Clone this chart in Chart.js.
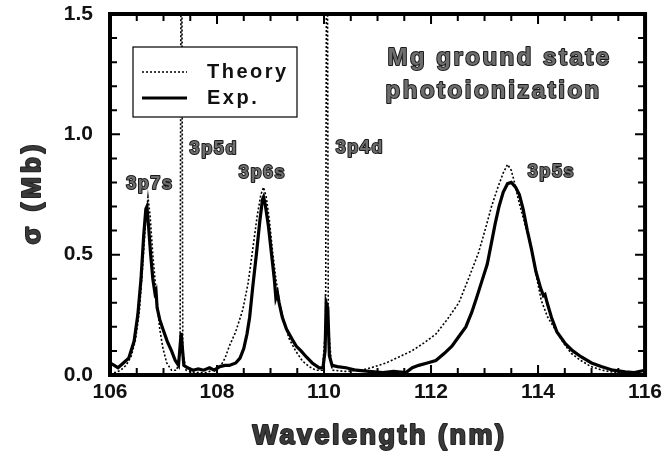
<!DOCTYPE html>
<html>
<head>
<meta charset="utf-8">
<script src="https://cdn.jsdelivr.net/npm/chart.js@4/dist/chart.umd.min.js"></script>
<style>
  body { margin: 0; background: #fff; }
  #wrap { width: 667px; height: 453px; position: relative; }
</style>
</head>
<body>
<div id="wrap"><canvas id="chart"></canvas></div>
<script>
// Mg ground state photoionization — theory vs experiment

const theoryWavelength = [
  106.00, 106.10, 106.20, 106.30, 106.40, 106.48, 106.55, 106.61, 106.66, 106.71,
  106.75, 106.80, 106.84, 106.89, 106.93, 106.99, 107.06, 107.15, 107.25, 107.31,
  107.335, 107.36, 107.42, 107.60, 107.80, 108.05, 108.15, 108.23, 108.35, 108.48,
  108.58, 108.66, 108.75, 108.82, 108.87, 108.92, 108.98, 109.04, 109.10, 109.17,
  109.25, 109.35, 109.47, 109.59, 109.72, 109.85, 109.97, 110.03, 110.055, 110.08,
  110.15, 110.40, 110.71, 110.95, 111.16, 111.40, 111.64, 111.88, 112.09, 112.30,
  112.52, 112.70, 112.89, 113.02, 113.13, 113.25, 113.35, 113.43, 113.50, 113.56,
  113.63, 113.75, 113.88, 113.97, 114.06, 114.18, 114.32, 114.47, 114.62, 114.80,
  114.99, 115.20, 115.44, 115.65, 115.87, 116.00
];
const theorySigma = [
  0.01, 0.01, 0.02, 0.04, 0.08, 0.15, 0.27, 0.45, 0.62, 0.74,
  0.66, 0.50, 0.40, 0.28, 0.19, 0.11, 0.05, 0.02, 0.02, 0.10,
  2.50, 0.10, 0.02, 0.01, 0.01, 0.03, 0.07, 0.12, 0.18, 0.27,
  0.38, 0.51, 0.66, 0.75, 0.78, 0.74, 0.64, 0.51, 0.40, 0.30,
  0.22, 0.15, 0.10, 0.06, 0.035, 0.02, 0.02, 0.20, 2.50, 0.20,
  0.02, 0.015, 0.02, 0.035, 0.05, 0.075, 0.10, 0.135, 0.17, 0.23,
  0.30, 0.40, 0.51, 0.61, 0.70, 0.78, 0.84, 0.875, 0.85, 0.80,
  0.73, 0.63, 0.52, 0.41, 0.31, 0.24, 0.19, 0.135, 0.09, 0.06,
  0.035, 0.02, 0.01, 0.01, 0.01, 0.02
];

const expWavelength = [
  106.00, 106.08, 106.15, 106.25, 106.35, 106.45, 106.52, 106.58, 106.63, 106.67,
  106.69, 106.72, 106.76, 106.80, 106.84, 106.86, 106.88, 106.93, 106.99, 107.07,
  107.15, 107.22, 107.28, 107.31, 107.33, 107.35, 107.38, 107.45, 107.55, 107.65,
  107.75, 107.86, 107.95, 108.05, 108.15, 108.23, 108.35, 108.43, 108.50, 108.56,
  108.61, 108.67, 108.74, 108.80, 108.85, 108.87, 108.90, 108.96, 109.02, 109.07,
  109.10, 109.13, 109.16, 109.22, 109.30, 109.40, 109.48, 109.57, 109.67, 109.78,
  109.91, 109.98, 110.02, 110.04, 110.07, 110.10, 110.15, 110.25, 110.41, 110.60,
  110.84, 111.10, 111.30, 111.53, 111.65, 111.77, 111.93, 112.09, 112.25, 112.39,
  112.52, 112.65, 112.76, 112.85, 112.95, 113.05, 113.13, 113.20, 113.27, 113.35,
  113.43, 113.50, 113.58, 113.65, 113.72, 113.80, 113.88, 113.96, 114.05, 114.10,
  114.13, 114.17, 114.25, 114.35, 114.51, 114.65, 114.81, 115.00, 115.18, 115.40,
  115.63, 115.80, 116.00
];
const expSigma = [
  0.05, 0.04, 0.03, 0.05, 0.07, 0.14, 0.25, 0.40, 0.58, 0.69,
  0.70, 0.62, 0.50, 0.40, 0.34, 0.35, 0.28, 0.23, 0.19, 0.14,
  0.10, 0.06, 0.04, 0.12, 0.175, 0.12, 0.04, 0.03, 0.02, 0.025,
  0.02, 0.03, 0.02, 0.035, 0.04, 0.04, 0.05, 0.07, 0.11, 0.17,
  0.24, 0.37, 0.51, 0.64, 0.73, 0.74, 0.71, 0.62, 0.50, 0.40,
  0.32, 0.34, 0.30, 0.24, 0.19, 0.15, 0.12, 0.10, 0.075, 0.05,
  0.03, 0.03, 0.10, 0.30, 0.28, 0.08, 0.04, 0.035, 0.03, 0.02,
  0.015, 0.01, 0.015, 0.01, 0.03, 0.04, 0.05, 0.06, 0.09, 0.12,
  0.16, 0.20, 0.26, 0.32, 0.39, 0.46, 0.55, 0.63, 0.70, 0.76,
  0.795, 0.80, 0.78, 0.75, 0.69, 0.60, 0.52, 0.43, 0.36, 0.33,
  0.335, 0.30, 0.24, 0.18, 0.13, 0.10, 0.075, 0.05, 0.035, 0.02,
  0.013, 0.01, 0.02
];

const xTickLabels = [106, 108, 110, 112, 114, 116];
const yTickLabels = [0.0, 0.5, 1.0, 1.5];

const peakNames = ['3p7s', '3p5d', '3p6s', '3p4d', '3p5s'];
const peakLabelAt = [[106.745, 0.794], [107.94, 0.939], [108.85, 0.839], [110.67, 0.943], [114.25, 0.843]];
const titleLines = ['Mg ground state', 'photoionization'];

const isLabel = (list, v) => list.some(l => Math.abs(l - v) < 1e-6);
const pts = (xs, ys) => xs.map((x, i) => ({ x, y: ys[i] }));

function outlined(ctx, text, x, y, font, spacing, fill, stroke) {
  ctx.save();
  ctx.font = font;
  ctx.letterSpacing = spacing;
  ctx.textAlign = 'center';
  ctx.textBaseline = 'middle';
  ctx.lineJoin = 'round';
  ctx.lineWidth = 2;
  ctx.strokeStyle = stroke;
  ctx.strokeText(text, x, y);
  ctx.fillStyle = fill;
  ctx.fillText(text, x, y);
  ctx.restore();
}

const decor = {
  id: 'decor',
  afterDraw(chart) {
    const { ctx, chartArea: a, scales: { x, y } } = chart;
    ctx.save();
    ctx.strokeStyle = '#000';
    ctx.lineWidth = 2;
    // inward ticks on all four sides
    x.ticks.forEach(t => {
      const px = x.getPixelForValue(t.value);
      const len = isLabel(xTickLabels, t.value) ? 10 : 7;
      ctx.beginPath();
      ctx.moveTo(px, a.bottom); ctx.lineTo(px, a.bottom - len);
      ctx.moveTo(px, a.top); ctx.lineTo(px, a.top + len);
      ctx.stroke();
    });
    y.ticks.forEach(t => {
      const py = y.getPixelForValue(t.value);
      const len = isLabel(yTickLabels, t.value) ? 10 : 7;
      ctx.beginPath();
      ctx.moveTo(a.left, py); ctx.lineTo(a.left + len, py);
      ctx.moveTo(a.right, py); ctx.lineTo(a.right - len, py);
      ctx.stroke();
    });
    ctx.lineWidth = 4;
    ctx.strokeRect(a.left, a.top, a.right - a.left, a.bottom - a.top);

    // legend box
    const lx = a.left + 23, ly = a.top + 33;
    ctx.lineWidth = 1.2;
    ctx.fillStyle = '#fff';
    ctx.fillRect(lx, ly, 164, 70);
    ctx.strokeRect(lx, ly, 164, 70);
    ctx.setLineDash([2, 2]);
    ctx.lineWidth = 1.6;
    ctx.beginPath(); ctx.moveTo(lx + 9, ly + 25); ctx.lineTo(lx + 54, ly + 25); ctx.stroke();
    ctx.setLineDash([]);
    ctx.lineWidth = 3;
    ctx.beginPath(); ctx.moveTo(lx + 9, ly + 51); ctx.lineTo(lx + 54, ly + 51); ctx.stroke();
    ctx.fillStyle = '#111';
    ctx.font = 'bold 20px "Liberation Sans"';
    ctx.letterSpacing = '2.5px';
    ctx.textBaseline = 'middle';
    ctx.fillText('Theory', lx + 74, ly + 25);
    ctx.fillText('Exp.', lx + 74, ly + 51);
    ctx.restore();

    // peak names and title
    peakNames.forEach((n, i) => {
      const [vx, vy] = peakLabelAt[i];
      outlined(ctx, n, x.getPixelForValue(vx), y.getPixelForValue(vy),
        'bold 18px "Liberation Sans"', '1.6px', '#6e6e6e', '#1a1a1a');
    });
    outlined(ctx, titleLines[0], x.getPixelForValue(113.28), y.getPixelForValue(1.317),
      'bold 24px "Liberation Sans"', '2.5px', '#6e6e6e', '#1a1a1a');
    outlined(ctx, titleLines[1], x.getPixelForValue(113.17), y.getPixelForValue(1.18),
      'bold 24px "Liberation Sans"', '2.5px', '#6e6e6e', '#1a1a1a');

    // axis titles
    outlined(ctx, 'Wavelength (nm)', (a.left + a.right) / 2 + 2, 437,
      'bold 27px "Liberation Sans"', '2.5px', '#3a3a3a', '#222');
    ctx.save();
    ctx.translate(33, (a.top + a.bottom) / 2 - 2);
    ctx.rotate(-Math.PI / 2);
    outlined(ctx, 'σ (Mb)', 0, 0, 'bold 26px "Liberation Sans"', '4px', '#3a3a3a', '#222');
    ctx.restore();
  }
};

new Chart(document.getElementById('chart'), {
  type: 'line',
  data: {
    datasets: [
      { label: 'Theory', data: pts(theoryWavelength, theorySigma), borderColor: '#000',
        borderWidth: 1.6, borderDash: [2, 2], pointRadius: 0, tension: 0, fill: false },
      { label: 'Exp.', data: pts(expWavelength, expSigma), borderColor: '#000',
        borderWidth: 3.2, pointRadius: 0, tension: 0, fill: false },
    ],
  },
  options: {
    responsive: true,
    maintainAspectRatio: false,
    animation: false,
    layout: { padding: { top: 14, right: 20, left: 0, bottom: 0 } },
    plugins: { legend: { display: false }, tooltip: { enabled: false } },
    scales: {
      x: {
        type: 'linear', min: 106, max: 116,
        grid: { display: false, drawTicks: false }, border: { display: false },
        ticks: { stepSize: 0.5, autoSkip: false, maxRotation: 0, padding: 5, color: '#111',
          font: { family: 'Liberation Sans', size: 21, weight: 'bold' },
          callback: v => isLabel(xTickLabels, v) ? String(Math.round(v)) : '' },
        afterFit: s => { s.height = 78; },
      },
      y: {
        min: 0, max: 1.5,
        grid: { display: false, drawTicks: false }, border: { display: false },
        ticks: { stepSize: 0.1, autoSkip: false, padding: 17, color: '#111',
          font: { family: 'Liberation Sans', size: 21, weight: 'bold' },
          callback: v => isLabel(yTickLabels, v) ? v.toFixed(1) : '' },
        afterFit: s => { s.width = 110; s.paddingTop = 0; s.paddingBottom = 0; },
      },
    },
  },
  plugins: [decor],
});
</script>
</body>
</html>
